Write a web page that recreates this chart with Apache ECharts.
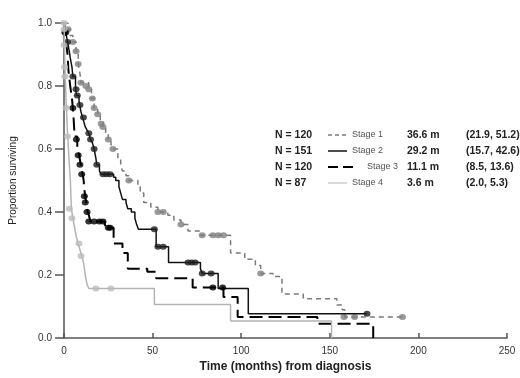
<!DOCTYPE html>
<html>
<head>
<meta charset="utf-8">
<script src="https://cdn.jsdelivr.net/npm/echarts@6/dist/echarts.min.js"></script>
<style>
  html, body { margin: 0; padding: 0; background: #fff; }
  #main { width: 520px; height: 378px; }
</style>
</head>
<body>
<div id="main"></div>
<script>
// Kaplan-Meier steps: [months, proportion surviving]
var stage1Steps = [[0,1],[2.3,0.98],[3.5,0.96],[5,0.94],[6.8,0.91],[8,0.87],[9,0.84],[9.6,0.81],[14,0.79],[15.5,0.76],[17,0.73],[19,0.71],[20.5,0.69],[22,0.67],[23.5,0.65],[25,0.63],[26.5,0.615],[27.6,0.60],[30.4,0.57],[32,0.55],[33,0.53],[35,0.515],[36.6,0.50],[41.7,0.48],[43,0.46],[45,0.43],[49,0.415],[53,0.40],[58.6,0.39],[62,0.375],[66,0.36],[70,0.34],[77,0.326],[94,0.27],[102,0.25],[108,0.23],[111,0.205],[118,0.195],[123,0.14],[135,0.125],[154,0.105],[157,0.09],[158.5,0.067],[191,0.067]];
var stage1Censor = [[2.3,0.98],[5,0.94],[6.8,0.91],[8,0.87],[9.6,0.81],[12.4,0.80],[14,0.79],[16,0.76],[17,0.73],[19,0.71],[21,0.68],[22,0.67],[25,0.63],[27.6,0.60],[36.6,0.50],[53,0.40],[56,0.40],[66,0.36],[78,0.326],[84,0.326],[87,0.326],[90,0.326],[111,0.205],[158,0.067],[164,0.067],[191,0.067]];

var stage2Steps = [[0,1],[1,0.97],[2,0.94],[3,0.91],[3.5,0.89],[4.5,0.86],[5,0.83],[6.5,0.80],[7,0.77],[8.5,0.75],[9.5,0.72],[10,0.71],[11,0.69],[12,0.67],[13,0.66],[14,0.65],[15,0.63],[16,0.62],[17,0.60],[18,0.57],[18.5,0.55],[20,0.53],[21,0.52],[28,0.51],[29.2,0.50],[31,0.48],[32,0.46],[33,0.44],[35,0.43],[36,0.41],[38,0.40],[40,0.38],[41,0.36],[42,0.345],[52,0.29],[59,0.24],[77,0.22],[78,0.205],[87,0.157],[104,0.077],[171,0.077]];
var stage2Censor = [[1,0.97],[2,0.94],[5,0.83],[6.8,0.79],[7.5,0.77],[9,0.74],[11,0.70],[14,0.65],[15,0.63],[17,0.60],[18.5,0.55],[22,0.52],[24,0.52],[26,0.52],[51,0.345],[53,0.29],[56,0.29],[70,0.24],[72,0.24],[74,0.24],[78,0.205],[83,0.205],[171,0.077]];

var stage3Steps = [[0,1],[1,0.95],[2,0.90],[2.5,0.85],[3.5,0.80],[4.5,0.76],[5,0.73],[5.5,0.69],[6,0.64],[7.5,0.61],[8.5,0.58],[9.5,0.55],[10.5,0.52],[11.1,0.50],[11.5,0.47],[12,0.45],[12.5,0.43],[13,0.41],[14,0.39],[15,0.37],[23,0.36],[24,0.35],[28,0.30],[33,0.27],[36,0.22],[47,0.21],[52,0.19],[72.6,0.16],[90,0.13],[98,0.067],[143,0.045],[174.5,0]];
var stage3Censor = [[0.5,0.97],[5,0.73],[7,0.63],[8,0.58],[9,0.55],[10,0.52],[11.5,0.45],[12,0.43],[13,0.40],[14,0.37],[17,0.37],[20,0.37],[22,0.37],[25,0.35],[26,0.35],[84,0.16],[89.5,0.16]];

var stage4Steps = [[0,1],[0.2,0.95],[0.4,0.90],[0.6,0.85],[0.9,0.80],[1.2,0.75],[1.6,0.70],[2.0,0.65],[2.5,0.60],[3.0,0.55],[3.6,0.50],[3.9,0.45],[4.2,0.41],[5,0.38],[6,0.35],[7,0.32],[8,0.30],[9,0.28],[10,0.26],[11,0.24],[12,0.20],[13,0.17],[14,0.157],[51,0.106],[94,0.054],[151,0.054],[151,0]];
var stage4Censor = [[0,1],[0,0.98],[0,0.93],[0.3,0.86],[0.5,0.83],[1.2,0.73],[2.0,0.64],[3,0.41],[4.5,0.38],[8.4,0.30],[9.6,0.26],[18,0.157],[26.5,0.157]];

var stageNames = ['Stage 1', 'Stage 2', 'Stage 3', 'Stage 4'];
var nLabels = ['N = 120', 'N = 151', 'N = 120', 'N = 87'];
var medians = ['36.6 m', '29.2 m', '11.1 m', '3.6 m'];
var ciLabels = ['(21.9, 51.2)', '(15.7, 42.6)', '(8.5, 13.6)', '(2.0, 5.3)'];
var xTicks = [0, 50, 100, 150, 200, 250];

var lineStyles = [
  { color: '#7a7a7a', width: 1.5, type: [5, 4] },
  { color: '#111', width: 1.5, type: 'solid' },
  { color: '#000', width: 2, type: [13, 6] },
  { color: '#b3b3b3', width: 1.5, type: 'solid' }
];
var dotColors = ['#7f7f7f', '#1e1e1e', '#000', '#bcbcbc'];
var allSteps = [stage1Steps, stage2Steps, stage3Steps, stage4Steps];
var allCensor = [stage1Censor, stage2Censor, stage3Censor, stage4Censor];

var series = [];
for (var i = 0; i < 4; i++) {
  series.push({
    name: stageNames[i], type: 'line', step: 'end', data: allSteps[i],
    showSymbol: false, lineStyle: lineStyles[i], z: 3 + i, silent: true
  });
  series.push({
    name: stageNames[i] + ' censored', type: 'scatter', data: allCensor[i],
    symbol: 'circle', symbolSize: [7, 6],
    itemStyle: { color: dotColors[i] }, z: 3 + i, silent: true
  });
}

// legend block drawn as graphic text and line samples
var rowY = [135, 151, 167, 183];
var graphic = [];
var bold = 'bold 10.5px "Liberation Sans", Arial, sans-serif';
for (var r = 0; r < 4; r++) {
  var y = rowY[r];
  var lineEnd = r === 2 ? 353 : 347;
  graphic.push({ type: 'text', style: { x: 275, y: y, text: nLabels[r], font: bold, fill: '#222', verticalAlign: 'middle' } });
  graphic.push({ type: 'line', shape: { x1: 328, y1: y, x2: lineEnd, y2: y },
    style: { stroke: lineStyles[r].color, lineWidth: r === 3 ? 1 : lineStyles[r].width, lineDash: r === 0 ? [4, 3] : (r === 2 ? [10, 5] : null) } });
  graphic.push({ type: 'text', style: { x: r === 2 ? 367 : 352, y: y, text: stageNames[r], font: '9px "Liberation Sans", Arial, sans-serif', fill: '#555', verticalAlign: 'middle' } });
  graphic.push({ type: 'text', style: { x: 407, y: y, text: medians[r], font: bold, fill: '#222', verticalAlign: 'middle' } });
  graphic.push({ type: 'text', style: { x: 466, y: y, text: ciLabels[r], font: bold, fill: '#222', verticalAlign: 'middle' } });
}

var chart = echarts.init(document.getElementById('main'));
chart.setOption({
  animation: false,
  backgroundColor: '#fff',
  grid: { left: 63, right: 13, top: 23, bottom: 40 },
  xAxis: {
    type: 'value', min: 0, max: 250, interval: 50,
    name: 'Time (months) from diagnosis', nameLocation: 'middle', nameGap: 17,
    nameTextStyle: { fontFamily: 'Liberation Sans', fontWeight: 'bold', fontSize: 12, color: '#222' },
    axisLine: { onZero: false, lineStyle: { color: '#555', width: 1.5 } },
    axisTick: { inside: true, length: 5, lineStyle: { color: '#555', width: 1.5 } },
    axisLabel: { color: '#333', fontSize: 10, fontFamily: 'Liberation Sans', margin: 8,
      formatter: function (v) { return xTicks.indexOf(v) >= 0 ? String(v) : ''; } },
    splitLine: { show: false }
  },
  yAxis: {
    type: 'value', min: 0, max: 1, interval: 0.2,
    name: 'Proportion surviving', nameLocation: 'middle', nameGap: 46,
    nameTextStyle: { fontFamily: 'Liberation Sans', fontSize: 10, color: '#222' },
    axisLine: { show: true, lineStyle: { color: '#555', width: 1.5 } },
    axisTick: { show: true, length: 9, lineStyle: { color: '#555', width: 1.5 } },
    axisLabel: { color: '#333', fontSize: 10, fontFamily: 'Liberation Sans', margin: 12,
      formatter: function (v) { return v.toFixed(1); } },
    splitLine: { show: false }
  },
  graphic: graphic,
  series: series
});
</script>
</body>
</html>
